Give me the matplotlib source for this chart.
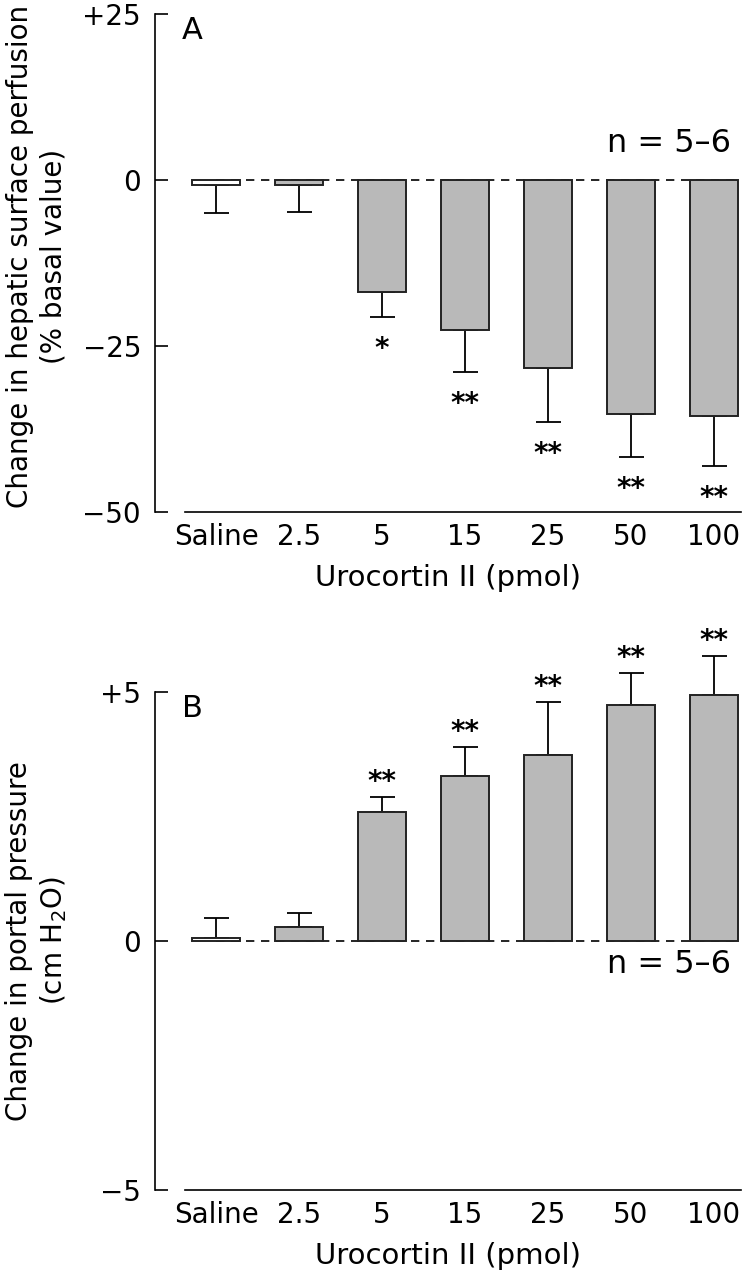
import matplotlib
matplotlib.use('Agg')
import matplotlib.pyplot as plt
import numpy as np

plt.rcParams['font.family'] = ['DejaVu Sans']
plt.rcParams['mathtext.fontset'] = 'dejavusans'

doses = ['Saline', '2.5', '5', '15', '25', '50', '100']

# panel A: change in hepatic surface perfusion (% basal), mean and SEM
perf_mean = [-0.8, -0.8, -16.9, -22.6, -28.3, -35.2, -35.6]
perf_sem = [4.2, 4.0, 3.7, 6.3, 8.2, 6.5, 7.5]
perf_sig = ['', '', '*', '**', '**', '**', '**']

# panel B: change in portal pressure (cm H2O)
pp_mean = [0.07, 0.29, 2.59, 3.31, 3.74, 4.73, 4.93]
pp_sem = [0.40, 0.27, 0.30, 0.58, 1.05, 0.66, 0.80]
pp_sig = ['', '', '**', '**', '**', '**', '**']

FS = 20
W, H = 745, 1280
fig = plt.figure(figsize=(W / 100, H / 100), dpi=100)

def panel(rect, means, sems, sig, ylim, yticks, yticklabels, letter, n_y, ylabel, label_y):
    ax = fig.add_axes(rect)
    x = np.arange(len(doses))
    means = np.array(means)
    sems = np.array(sems)
    colors = ['white'] + ['#b9b9b9'] * (len(doses) - 1)

    ax.hlines(0, 0, len(doses) - 0.7, colors='black', linestyles=(0, (5, 4)),
              linewidth=1.2, zorder=1)

    neg = means < 0
    lower = np.where(neg, sems, 0)
    upper = np.where(neg, 0, sems)
    ax.errorbar(x, means, yerr=[lower, upper], fmt='none', ecolor='black',
                elinewidth=1.3, capsize=9, capthick=1.3, zorder=2, clip_on=False)
    ax.bar(x, means, width=0.58, color=colors, edgecolor='#222222',
           linewidth=1.4, zorder=3, clip_on=False)

    # asterisk glyph sits ~16 px above baseline
    for xi, m, s, t in zip(x, means, sems, sig):
        if not t:
            continue
        end = m - s if m < 0 else m + s
        off = -24 - 16 if m < 0 else 23 - 16
        ax.annotate(t, (xi, end), xytext=(0, off), textcoords='offset pixels',
                    ha='center', va='baseline', fontsize=20, fontweight='bold',
                    annotation_clip=False)

    ax.set_xlim(-0.735, 6.325)
    ax.set_ylim(*ylim)
    ax.set_yticks(yticks)
    ax.set_yticklabels(yticklabels, fontsize=FS)
    ax.set_xticks(x)
    ax.set_xticklabels(doses, fontsize=FS)
    ax.tick_params(axis='y', direction='in', length=9, width=1.2, pad=10)
    ax.tick_params(axis='x', length=0, pad=8)
    for s in ['top', 'right']:
        ax.spines[s].set_visible(False)
    ax.spines['left'].set_linewidth(1.2)
    ax.spines['bottom'].set_linewidth(1.2)
    ax.spines['bottom'].set_bounds(-0.37, 6.325)
    ax.set_xlabel('Urocortin II (pmol)', fontsize=21, labelpad=9)

    ax.text(0.046, 0.995, letter, transform=ax.transAxes, ha='left', va='top',
            fontsize=22)
    ax.text(0.983, n_y, 'n = 5\u20136', transform=ax.transAxes, ha='right',
            va='center', fontsize=23)
    fig.text(37 / W, 1 - label_y / H, ylabel, rotation=90, ha='center',
             va='center', multialignment='center', linespacing=1.25, fontsize=FS)
    return ax

panel([155 / W, 1 - 512 / H, 586 / W, 498 / H], perf_mean, perf_sem, perf_sig,
      (-50, 25), [25, 0, -25, -50], ['+25', '0', '\u221225', '\u221250'], 'A', 0.74,
      'Change in hepatic surface perfusion\n(% basal value)', 256)

panel([155 / W, 1 - 1190 / H, 586 / W, 498 / H], pp_mean, pp_sem, pp_sig,
      (-5, 5), [5, 0, -5], ['+5', '0', '\u22125'], 'B', 0.452,
      'Change in portal pressure\n(cm H$_2$O)', 941)

fig.savefig('out.png', dpi=100)
